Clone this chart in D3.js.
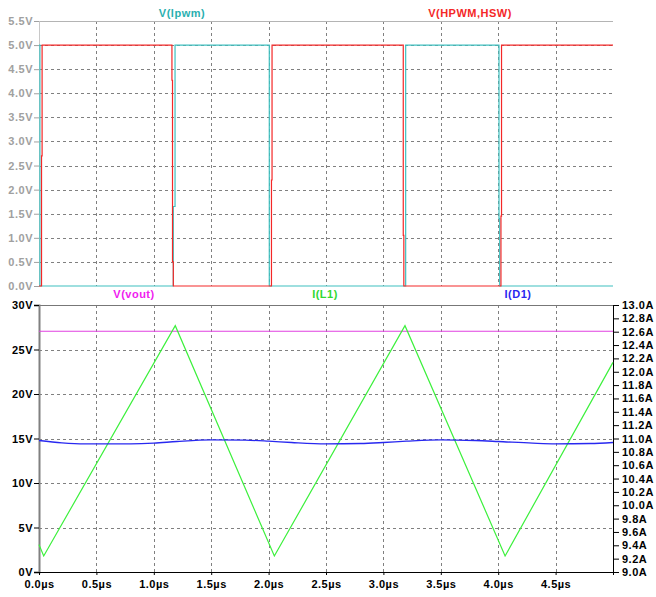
<!DOCTYPE html>
<html>
<head>
<meta charset="utf-8">
<script src="https://cdn.jsdelivr.net/npm/d3@7"></script>
<style>
  body { margin: 0; background: #fff; }
  svg text { font-family: "Liberation Sans", Arial, sans-serif; font-weight: bold; font-size: 11px; letter-spacing: 0.5px; }
</style>
</head>
<body>
<svg id="chart"></svg>
<script>
const width = 656, height = 597;

// time axis (µs)
const timeTicks = [0, 0.5, 1.0, 1.5, 2.0, 2.5, 3.0, 3.5, 4.0, 4.5];

// top pane: V(lpwm) and V(HPWM,HSW)
const topTicks = [0, 0.5, 1.0, 1.5, 2.0, 2.5, 3.0, 3.5, 4.0, 4.5, 5.0, 5.5];
const pwmT = [0, 0.008, 0.008, 1.170, 1.170, 1.185, 1.185, 2.006, 2.006, 3.194, 3.194, 4.007, 4.007, 4.013, 4.013, 5.0];
const pwmV = [5, 5, 0, 0, 1.65, 1.65, 5, 5, 0, 0, 5, 5, 1.4, 1.4, 0, 0];
const hswT = [0, 0.022, 0.022, 0.027, 0.027, 1.158, 1.158, 1.163, 1.163, 1.170, 1.170, 2.025, 2.025, 2.030, 2.030, 3.173, 3.173, 3.178, 3.178, 4.024, 4.024, 4.029, 4.029, 5.0];
const hswV = [0, 0, 2.7, 2.7, 5, 5, 4.27, 4.27, 0.5, 0.5, 0, 0, 2.2, 2.2, 5, 5, 1.05, 1.05, 0, 0, 1.45, 1.45, 5, 5];

// bottom pane: V(vout) on left axis, I(L1) and I(D1) on right axis
const voltTicks = [0, 5, 10, 15, 20, 25, 30];
const ampTicks = d3.range(9.0, 13.001, 0.2);
const voutT = [0, 5.0];
const voutV = [27.05, 27.05];
const il1T = [0, 0.041, 1.187, 2.05, 3.188, 4.06, 5.0];
const il1A = [9.41, 9.24, 12.69, 9.24, 12.69, 9.24, 12.14];
const id1T = [0, 0.2, 0.4, 0.8, 1.0, 1.2, 1.5, 1.8, 2.0, 2.2, 2.5, 2.8, 3.0, 3.2, 3.5, 3.8, 4.0, 4.3, 4.5, 4.8, 5.0];
const id1A = [10.97, 10.935, 10.92, 10.92, 10.93, 10.955, 10.98, 10.975, 10.96, 10.94, 10.92, 10.925, 10.94, 10.96, 10.98, 10.97, 10.955, 10.93, 10.92, 10.925, 10.94];

const left = 39, right = 613;
const x = d3.scaleLinear().domain([0, 5]).range([left, right]);
const yTop = d3.scaleLinear().domain([0, 5.5]).range([286, 21]);
const yV = d3.scaleLinear().domain([0, 30]).range([572, 305]);
const yA = d3.scaleLinear().domain([9, 13]).range([572, 305]);

const zip = (ts, vs) => ts.map((t, i) => [t, vs[i]]);

const svg = d3.select('#chart').attr('width', width).attr('height', height);

const gridStyle = g => g.attr('stroke', '#808080').attr('stroke-dasharray', '3,3').attr('stroke-width', 1);

// ---- top pane ----
const topPane = svg.append('g');

// horizontal grid
topPane.append('g').call(gridStyle).selectAll('line')
  .data(topTicks.filter(v => v > 0 && v < 5.5))
  .enter().append('line')
  .attr('x1', left).attr('x2', right)
  .attr('y1', d => Math.round(yTop(d)) + 0.5).attr('y2', d => Math.round(yTop(d)) + 0.5);

// vertical grid
topPane.append('g').call(gridStyle).selectAll('line')
  .data(timeTicks.filter(v => v > 0))
  .enter().append('line')
  .attr('x1', d => Math.round(x(d)) + 0.5).attr('x2', d => Math.round(x(d)) + 0.5)
  .attr('y1', yTop(5.5)).attr('y2', yTop(0));

// border
topPane.append('line').attr('x1', left).attr('x2', right)
  .attr('y1', yTop(5.5) + 0.5).attr('y2', yTop(5.5) + 0.5).attr('stroke', '#b4b4b4');

const topAxis = topPane.append('g')
  .attr('transform', `translate(${left},0)`)
  .call(d3.axisLeft(yTop).tickValues(topTicks).tickFormat(d => d.toFixed(1) + 'V').tickSize(5).tickPadding(1));
topAxis.select('.domain').attr('stroke', '#c8c8c8');
topAxis.selectAll('.tick line').attr('stroke', '#a0a0a0');
topAxis.selectAll('.tick text').attr('fill', '#a0a0a0').style('font-size', '11px');

const line = (xs, ys) => d3.line().x(d => x(d[0])).y(d => ys(d[1]));

topPane.append('path').datum(zip(pwmT, pwmV))
  .attr('d', line(x, yTop)).attr('fill', 'none').attr('stroke', '#3ec0c0').attr('stroke-width', 1.2);
topPane.append('path').datum(zip(hswT, hswV))
  .attr('d', line(x, yTop)).attr('fill', 'none').attr('stroke', '#f42828').attr('stroke-width', 1.2);

topPane.append('text').attr('x', 182).attr('y', 17).attr('text-anchor', 'middle')
  .attr('fill', '#2ab0b0').text('V(lpwm)');
topPane.append('text').attr('x', 470).attr('y', 17).attr('text-anchor', 'middle')
  .attr('fill', '#f42828').text('V(HPWM,HSW)');

// ---- bottom pane ----
const botPane = svg.append('g');

botPane.append('g').call(gridStyle).selectAll('line')
  .data(voltTicks.filter(v => v > 0 && v < 30))
  .enter().append('line')
  .attr('x1', left).attr('x2', right)
  .attr('y1', d => Math.round(yV(d)) + 0.5).attr('y2', d => Math.round(yV(d)) + 0.5);

botPane.append('g').call(gridStyle).selectAll('line')
  .data(timeTicks.filter(v => v > 0))
  .enter().append('line')
  .attr('x1', d => Math.round(x(d)) + 0.5).attr('x2', d => Math.round(x(d)) + 0.5)
  .attr('y1', yV(30)).attr('y2', yV(0));

botPane.append('line').attr('x1', left).attr('x2', right)
  .attr('y1', yV(30) + 0.5).attr('y2', yV(30) + 0.5).attr('stroke', '#777');

const leftAxis = botPane.append('g')
  .attr('transform', `translate(${left},0)`)
  .call(d3.axisLeft(yV).tickValues(voltTicks).tickFormat(d => d + 'V').tickSize(5).tickPadding(1));
leftAxis.select('.domain').attr('stroke', '#808080').attr('stroke-width', 2);
leftAxis.selectAll('.tick line').attr('stroke', '#000');
leftAxis.selectAll('.tick text').attr('fill', '#000').style('font-size', '11px');

const rightAxis = botPane.append('g')
  .attr('transform', `translate(${right},0)`)
  .call(d3.axisRight(yA).tickValues(ampTicks).tickFormat(d => d.toFixed(1) + 'A').tickSize(6).tickPadding(3));
rightAxis.select('.domain').attr('stroke', '#000');
rightAxis.selectAll('.tick line').attr('stroke', '#000');
rightAxis.selectAll('.tick text').attr('fill', '#000').style('font-size', '11px');

const bottomAxis = botPane.append('g')
  .attr('transform', `translate(0,${yV(0)})`)
  .call(d3.axisBottom(x).tickValues(timeTicks).tickFormat(d => d.toFixed(1) + 'µs').tickSize(3).tickPadding(5));
bottomAxis.select('.domain').attr('stroke', '#000');
bottomAxis.selectAll('.tick line').attr('stroke', '#000');
bottomAxis.selectAll('.tick text').attr('fill', '#000').style('font-size', '11px');

botPane.append('path').datum(zip(voutT, voutV))
  .attr('d', line(x, yV)).attr('fill', 'none').attr('stroke', '#e040e0').attr('stroke-width', 1.2);
botPane.append('path').datum(zip(il1T, il1A))
  .attr('d', line(x, yA)).attr('fill', 'none').attr('stroke', '#3cf03c').attr('stroke-width', 1.2);
botPane.append('path').datum(zip(id1T, id1A)).attr('d', d3.line().x(d => x(d[0])).y(d => yA(d[1])).curve(d3.curveMonotoneX))
  .attr('fill', 'none').attr('stroke', '#2828f0').attr('stroke-width', 1.3);

botPane.append('text').attr('x', 134).attr('y', 298).attr('text-anchor', 'middle')
  .attr('fill', '#f020f0').text('V(vout)');
botPane.append('text').attr('x', 325).attr('y', 298).attr('text-anchor', 'middle')
  .attr('fill', '#30d830').text('I(L1)');
botPane.append('text').attr('x', 518).attr('y', 298).attr('text-anchor', 'middle')
  .attr('fill', '#2828f0').text('I(D1)');
</script>
</body>
</html>
